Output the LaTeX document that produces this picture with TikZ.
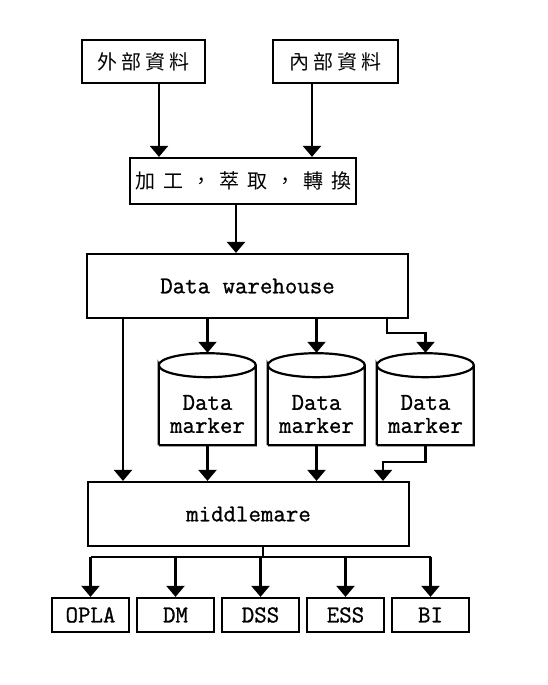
\documentclass[tikz,border=0pt]{standalone}
\usepackage{fontspec}
\newfontfamily\cjk[LetterSpace=20]{Noto Sans CJK TC}
\newfontfamily\cjkwide[LetterSpace=40]{Noto Sans CJK TC}
\newfontfamily\latin[FakeBold=1]{Latin Modern Mono}
\usetikzlibrary{arrows.meta}
\tikzset{
        line/.style={draw=black, line width=2.2pt},
        arr/.style={line, -{Triangle[length=11pt,width=18pt]}},
        box/.style={rectangle, draw=black, line width=2.2pt, inner sep=0pt},
        cjkbox/.style={box, font=\cjk\fontsize{20}{24}\selectfont},
        latinbox/.style={box, font=\latin\fontsize{24.2}{25}\selectfont},
        marker/.style={rectangle, inner sep=0pt, minimum width=97pt, minimum height=62pt, align=center, font=\latin\fontsize{24.2}{23}\selectfont},
        outbox/.style={latinbox, minimum width=77pt, minimum height=34pt}
          }
\begin{document}
\begin{tikzpicture}
        [x=1pt, y=1pt]
        \useasboundingbox (0,0) rectangle (547,685);
        % sources
        \node[cjkbox, minimum width=123pt, minimum height=43pt] (ext) at (143.5,623.5) {外部資料};
        \node[cjkbox, minimum width=125pt, minimum height=43pt] (int) at (335.5,623.5) {內部資料};
        \node[cjkbox, font=\cjkwide\fontsize{20}{24}\selectfont, minimum width=226pt, minimum height=46pt] (proc) at (243,504) {加工，萃取，轉換};
        \node[latinbox, minimum width=321pt, minimum height=64pt] (dw) at (247.5,399) {Data warehouse};
        \node[latinbox, minimum width=321pt, minimum height=64pt] (mw) at (248.5,171) {middlemare};
        % data markers
        \foreach \n/\x in {1/207.5,2/316.5,3/425.5} {
          \node[marker] (dm\n) at (\x,271) {Data\\marker};
          \coordinate (top\n) at ([yshift=30pt]dm\n.north);
          \draw[line] (dm\n.south west) -- ++(0,80)
            arc[start angle=180, end angle=540, x radius=48.5, y radius=12]
            ++(97,0) -- ++(0,-80) -- (dm\n.south west);
        }
        % outputs
        \foreach \n/\x/\t in {1/90.5/OPLA,2/175.5/DM,3/260.5/DSS,4/345.5/ESS,5/430.5/BI}
          \node[outbox] (o\n) at (\x,70) {\t};
        % connectors
        \draw[arr] ([xshift=15.5pt]ext.south) -- ([xshift=15.5pt]ext.south |- proc.north);
        \draw[arr] ([xshift=-23.5pt]int.south) -- ([xshift=-23.5pt]int.south |- proc.north);
        \draw[arr] ([xshift=-7pt]proc.south) -- ([xshift=-7pt]proc.south |- dw.north);
        \draw[arr] (top1 |- dw.south) -- (top1);
        \draw[arr] (top2 |- dw.south) -- (top2);
        \draw[arr] ([xshift=139.5pt]dw.south) |- ([yshift=20pt]top3) -- (top3);
        \draw[arr] ([xshift=-124.5pt]dw.south) -- ([xshift=-124.5pt]dw.south |- mw.north);
        \draw[arr] (dm1.south) -- (dm1.south |- mw.north);
        \draw[arr] (dm2.south) -- (dm2.south |- mw.north);
        \draw[arr] (dm3.south) -- ++(0,-17) -| ([xshift=134.5pt]mw.north);
        \draw[line] ([xshift=14.5pt]mw.south) -- ++(0,-10) coordinate (bus);
        \draw[line] (bus -| o1.north) -- (bus -| o5.north);
        \foreach \n in {1,...,5}
          \draw[arr] (bus -| o\n.north) -- (o\n.north);
\end{tikzpicture}
\end{document}
